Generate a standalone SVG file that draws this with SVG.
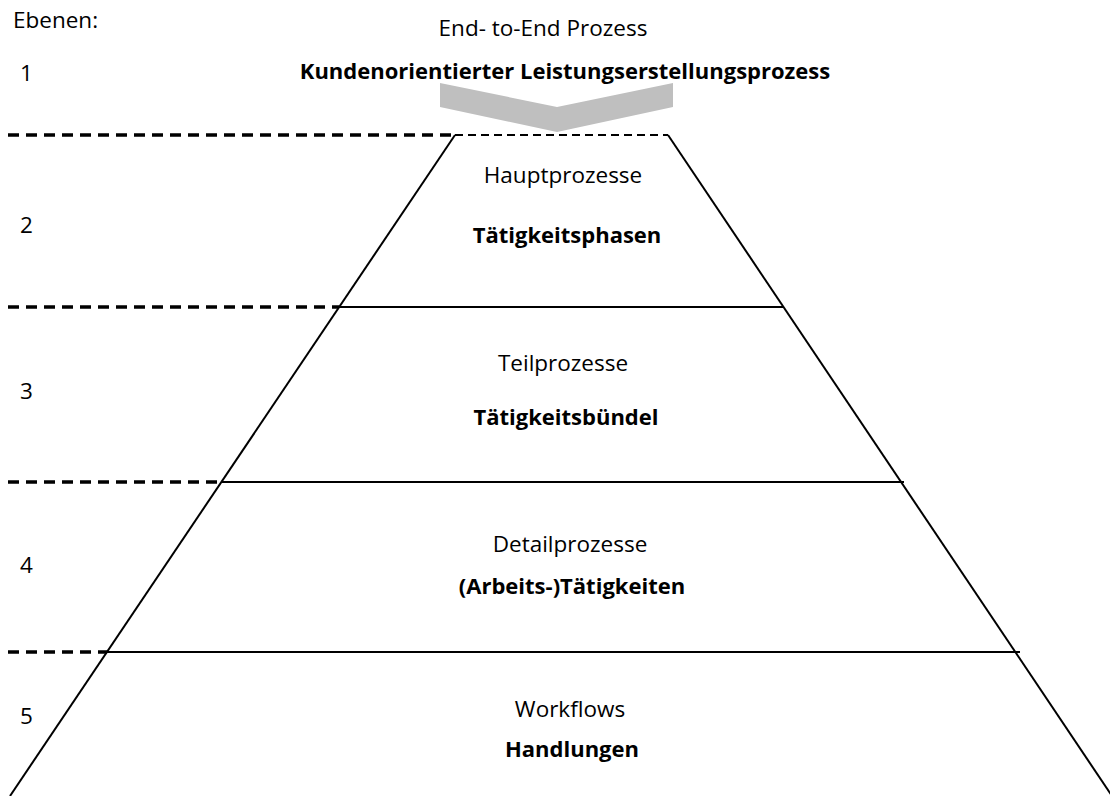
<svg xmlns="http://www.w3.org/2000/svg" width="1110" height="796" viewBox="0 0 1110 796">
  <style>
    .lbl { font-family: "Open Sans", "Liberation Sans", sans-serif; font-size: 22.5px; fill: #000; }
    .title { text-anchor: middle; }
    .bold { font-weight: bold; font-size: 22px; }
    .edge { stroke: #000; stroke-width: 2; fill: none; }
    .level { stroke: #000; stroke-width: 3.5; stroke-dasharray: 11 7; stroke-linecap: butt; fill: none; }
    .cap { stroke: #000; stroke-width: 2; stroke-dasharray: 8 5; fill: none; }
  </style>
  <rect width="1110" height="796" fill="#fff"/>

  <g id="connectors">
    <!-- level separators on the left -->
    <line class="level" x1="8" y1="135" x2="455" y2="135"/>
    <line class="cap" x1="455" y1="135" x2="668" y2="135"/>
    <line class="level" x1="8" y1="307" x2="339" y2="307"/>
    <line class="level" x1="8" y1="482" x2="221" y2="482"/>
    <line class="level" x1="8" y1="652" x2="107" y2="652"/>
    <!-- pyramid flanks -->
    <line class="edge" x1="455" y1="135" x2="10" y2="796"/>
    <line class="edge" x1="668" y1="135" x2="1112" y2="796"/>
    <!-- inner level boundaries -->
    <line class="edge" x1="339" y1="307" x2="783" y2="307"/>
    <line class="edge" x1="221" y1="482" x2="904" y2="482"/>
    <line class="edge" x1="107" y1="652" x2="1020" y2="652"/>
  </g>

  <g id="legend">
    <text class="lbl" x="13" y="28">Ebenen:</text>
    <text class="lbl" x="20" y="81">1</text>
    <text class="lbl" x="20" y="233">2</text>
    <text class="lbl" x="20" y="399">3</text>
    <text class="lbl" x="20" y="573">4</text>
    <text class="lbl" x="20" y="724">5</text>
  </g>

  <g id="level1">
    <text class="lbl title" x="543" y="36">End- to-End Prozess</text>
    <text class="lbl title bold" x="565" y="79">Kundenorientierter Leistungserstellungsprozess</text>
    <polygon points="440,83 557,107 673,83 673,107 557,132 440,107" fill="#bfbfbf"/>
  </g>

  <g id="level2">
    <text class="lbl title" x="563" y="183">Hauptprozesse</text>
    <text class="lbl title bold" x="567" y="243">Tätigkeitsphasen</text>
  </g>

  <g id="level3">
    <text class="lbl title" x="563" y="371">Teilprozesse</text>
    <text class="lbl title bold" x="566" y="425">Tätigkeitsbündel</text>
  </g>

  <g id="level4">
    <text class="lbl title" x="570" y="552">Detailprozesse</text>
    <text class="lbl title bold" x="572" y="594">(Arbeits-)Tätigkeiten</text>
  </g>

  <g id="level5">
    <text class="lbl title" x="570" y="717">Workflows</text>
    <text class="lbl title bold" x="572" y="757">Handlungen</text>
  </g>
</svg>
